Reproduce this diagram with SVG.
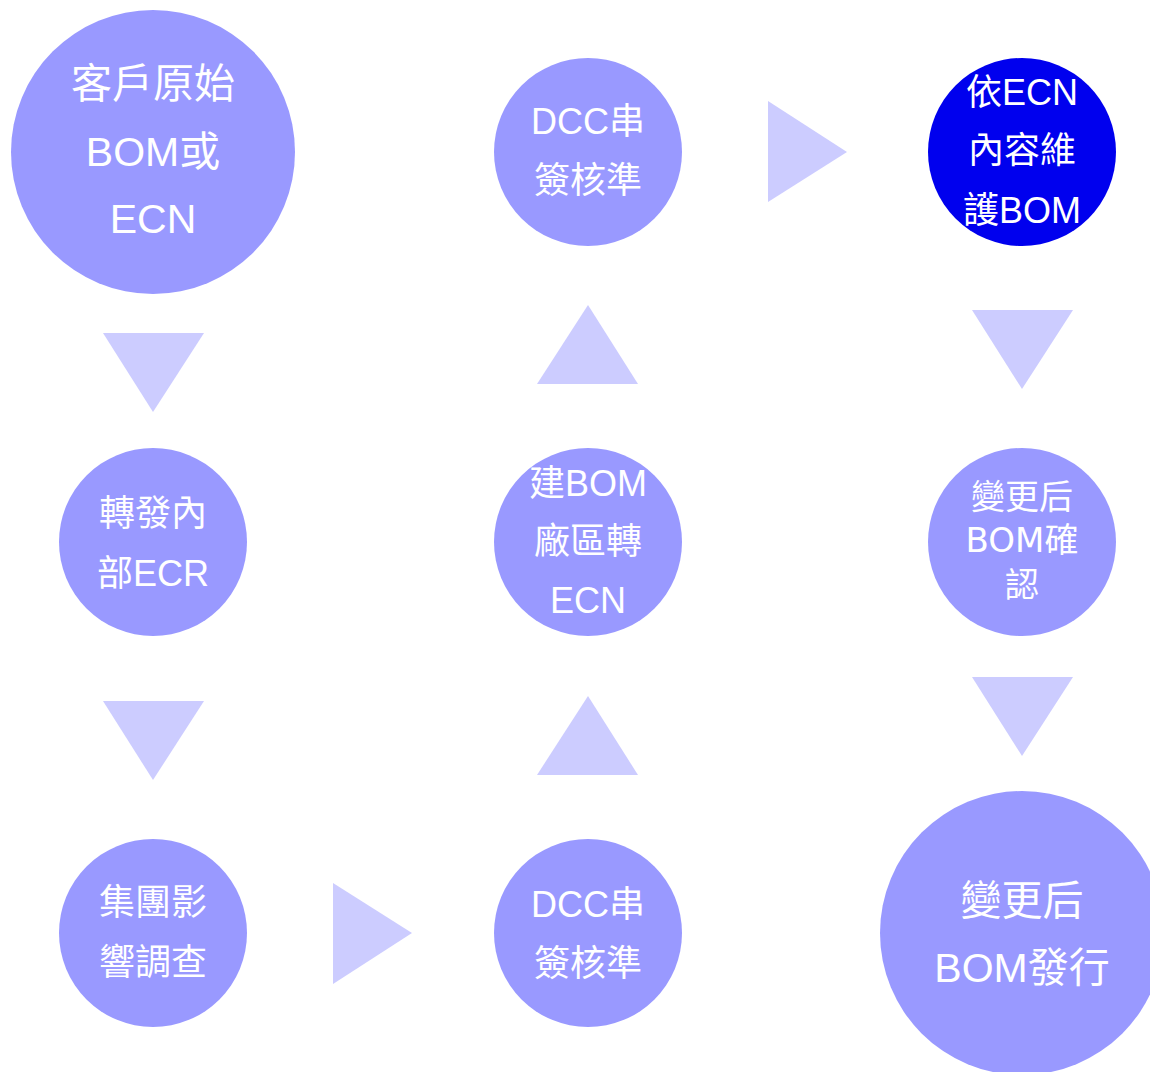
<svg xmlns="http://www.w3.org/2000/svg" width="1150" height="1072" viewBox="0 0 1150 1072">
<style>
.n{fill:#9999ff}
.b{fill:#0000ee}
.a{fill:#ccccff}
text{fill:#ffffff;font-family:"Liberation Sans","Noto Sans CJK TC",sans-serif;text-anchor:middle}
.l{font-size:41px}
.s{font-size:36px}
.t{font-size:34px;font-family:"DejaVu Sans","Noto Sans CJK TC",sans-serif}
</style>
<rect width="1150" height="1072" fill="#ffffff"/>
<g id="connectors">
<polygon class="a" points="103,333 204,333 153,412"/>
<polygon class="a" points="103,701 204,701 153,780"/>
<polygon class="a" points="333,883 333,984 412,933"/>
<polygon class="a" points="537,775 638,775 588,696"/>
<polygon class="a" points="537,384 638,384 588,305"/>
<polygon class="a" points="768,101 768,202 847,152"/>
<polygon class="a" points="972,310 1073,310 1022,389"/>
<polygon class="a" points="972,677 1073,677 1022,756"/>
</g>
<g id="n1">
<circle class="n" cx="153" cy="152" r="142"/>
<text class="l" x="153" y="98">客戶原始</text>
<text class="l" x="153" y="166">BOM或</text>
<text class="l" x="153" y="233">ECN</text>
</g>
<g id="n2">
<circle class="n" cx="153" cy="542" r="94"/>
<text class="s" x="153" y="526">轉發內</text>
<text class="s" x="153" y="586">部ECR</text>
</g>
<g id="n3">
<circle class="n" cx="153" cy="933" r="94"/>
<text class="s" x="153" y="915">集團影</text>
<text class="s" x="153" y="975">響調查</text>
</g>
<g id="n4">
<circle class="n" cx="588" cy="933" r="94"/>
<text class="s" x="588" y="917">DCC串</text>
<text class="s" x="588" y="976">簽核準</text>
</g>
<g id="n5">
<circle class="n" cx="588" cy="542" r="94"/>
<text class="s" x="588" y="496">建BOM</text>
<text class="s" x="588" y="554">廠區轉</text>
<text class="s" x="588" y="613">ECN</text>
</g>
<g id="n6">
<circle class="n" cx="588" cy="152" r="94"/>
<text class="s" x="588" y="134">DCC串</text>
<text class="s" x="588" y="193">簽核準</text>
</g>
<g id="n7">
<circle class="b" cx="1022" cy="152" r="94"/>
<text class="s" x="1022" y="105">依ECN</text>
<text class="s" x="1022" y="163">內容維</text>
<text class="s" x="1022" y="223">護BOM</text>
</g>
<g id="n8">
<circle class="n" cx="1022" cy="542" r="94"/>
<text class="t" x="1022" y="509">變更后</text>
<text class="t" x="1022" y="552">BOM確</text>
<text class="t" x="1022" y="597">認</text>
</g>
<g id="n9">
<circle class="n" cx="1022" cy="933" r="142"/>
<text class="l" x="1022" y="915">變更后</text>
<text class="l" x="1022" y="982">BOM發行</text>
</g>
</svg>
